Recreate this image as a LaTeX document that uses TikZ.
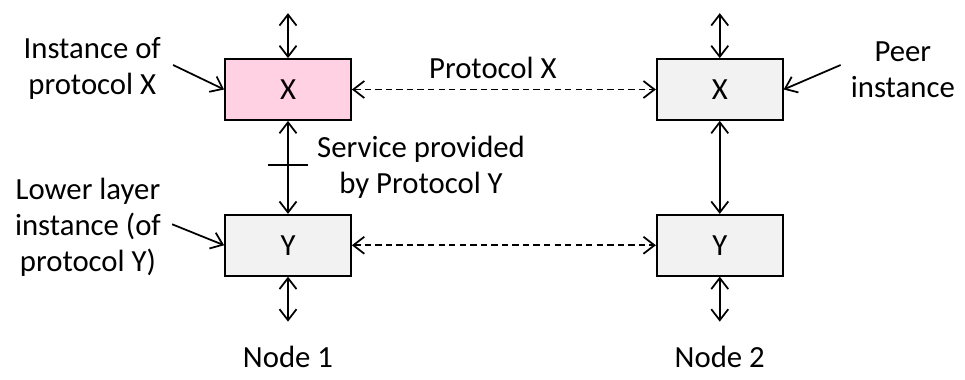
\documentclass[tikz,border=0pt]{standalone}
\usepackage{fontspec}
\setmainfont{Carlito}
\usetikzlibrary{positioning,arrows.meta}

\definecolor{boxgray}{RGB}{242,242,242}
\definecolor{boxpink}{RGB}{255,209,227}

\tikzset{
  layerbox/.style={draw, line width=1pt, fill=boxgray,
    minimum width=2.52cm, minimum height=1.22cm},
  biarrow/.style={{Straight Barb[length=2.2mm,width=3.4mm]}-{Straight Barb[length=2.2mm,width=3.4mm]},
    line width=1pt},
  leadarrow/.style={-{Straight Barb[length=2.2mm,width=3.4mm]}, line width=1pt},
  peerdash/.style={dash pattern=on 3.6pt off 2.4pt},
}

\begin{document}
\begin{tikzpicture}[every node/.style={font=\fontsize{17.5}{20.5}\selectfont}]
    \useasboundingbox (0,0) rectangle (19.3,-7.58);

    % the two protocol stacks
    \node [layerbox, fill=boxpink] (xleft) at (5.76,-1.79) {X};
    \node [layerbox, right=6.08cm of xleft] (xright) {X};
    \node [layerbox, below=1.86cm of xleft] (yleft) {Y};
    \node [layerbox, below=1.86cm of xright] (yright) {Y};

    \coordinate [above=0.9cm of xleft.north] (xlefttop);
    \coordinate [above=0.9cm of xright.north] (xrighttop);
    \coordinate [below=0.9cm of yleft.south] (yleftbot);
    \coordinate [below=0.9cm of yright.south] (yrightbot);

    % side labels
    \node [left=1.14cm of xleft.west, yshift=0.43cm, align=center] (instx) {Instance of\\protocol X};
    \node [left=1.14cm of yleft.west, yshift=0.36cm, align=center] (lowery) {Lower layer\\instance (of\\protocol Y)};
    \node [right=1.22cm of xright.east, yshift=0.39cm, align=center] (peer) {Peer\\instance};

    \node [below=1.6cm of yleft.south, anchor=center] (node1) {Node 1};
    \node [below=1.6cm of yright.south, anchor=center] (node2) {Node 2};

    % connectors
    \draw [biarrow] (xlefttop) -- (xleft);
    \draw [biarrow] (xrighttop) -- (xright);
    \draw [biarrow] (yleft) -- (yleftbot);
    \draw [biarrow] (yright) -- (yrightbot);
    \draw [biarrow] (xleft) -- coordinate (svc) (yleft);
    \draw [biarrow] (xright) -- (yright);

    \draw [biarrow, peerdash] (xleft) -- node [midway, yshift=0.43cm, xshift=-0.22cm] (protx) {Protocol X} (xright);
    \draw [biarrow, peerdash] (yleft) -- (yright);

    \draw [line width=1pt] ([shift={(-0.4,0.05)}]svc) -- ([shift={(0.4,0.05)}]svc);
    \node [right=0.46cm of svc, align=center] (service) {Service provided\\by Protocol Y};

    \draw [leadarrow] ([shift={(0.12,0.06)}]instx.east) -- (xleft.west);
    \draw [leadarrow] ([shift={(0.1,0.06)}]lowery.east) -- (yleft.west);
    \draw [leadarrow] ([shift={(-0.08,0.1)}]peer.west) -- (xright.east);
\end{tikzpicture}
\end{document}
